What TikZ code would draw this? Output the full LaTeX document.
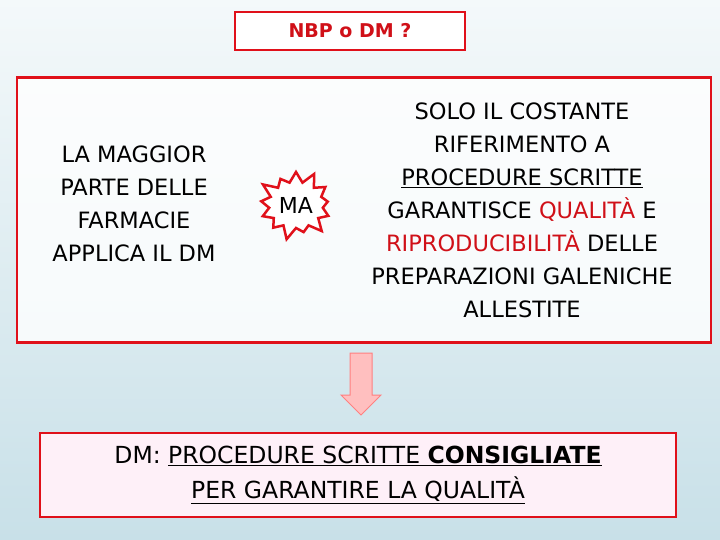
\documentclass[tikz,border=0pt]{standalone}
\usepackage{fontspec}
\setmainfont{DejaVu Sans}
\usetikzlibrary{shapes.misc,shapes.geometric,shapes.symbols}
\definecolor{bred}{HTML}{E0101A}
\definecolor{tred}{HTML}{D01018}
\definecolor{bgb}{HTML}{C8E0E8}
\tikzset{redbox/.style={draw=bred,line width=2.5pt},
 txt/.style={align=center,font=\fontsize{22.5}{33}\selectfont,inner sep=0pt}}
\begin{document}
\begin{tikzpicture}[x=1pt,y=-1pt]
\shade[top color=white!80!bgb,bottom color=bgb] (0,0) rectangle (720,540);
\useasboundingbox (0,0) rectangle (720,540);
\node[redbox,fill=white,minimum width=230pt,minimum height=38pt,font=\bfseries\fontsize{19}{22}\selectfont,text=tred] (title) at (350,31) {NBP o DM ?};
\node[redbox,fill=white,fill opacity=0.8,text opacity=1,minimum width=694pt,minimum height=265pt] (main) at (364,210) {};
\node[txt] (left) at (134,204) {LA MAGGIOR\\PARTE DELLE\\FARMACIE\\APPLICA IL DM};
\node[starburst,starburst points=13,starburst point height=14pt,draw=bred,line width=2.5pt,fill=white,minimum width=82pt,minimum height=74pt,font=\fontsize{22}{24}\selectfont,inner sep=0pt] (star) at (296,205) {MA};
\node[txt] (right) at (522,210) {SOLO IL COSTANTE\\RIFERIMENTO A\\\underline{PROCEDURE SCRITTE}\\GARANTISCE \textcolor{tred}{QUALITÀ} E\\\textcolor{tred}{RIPRODUCIBILITÀ} DELLE\\PREPARAZIONI GALENICHE\\ALLESTITE};
\draw[draw=red!50,fill=red!25,line width=1pt] (350,353) -- (372,353) -- (372,395) -- (381,395) -- (361,415) -- (341,395) -- (350,395) -- cycle;
\node[redbox,fill=magenta!6,minimum width=636pt,minimum height=84pt,font=\fontsize{23.5}{35}\selectfont,align=center,inner sep=0pt] (bot) at (358,475) {DM: \underline{PROCEDURE SCRITTE \textbf{CONSIGLIATE}}\\\underline{PER GARANTIRE LA QUALITÀ}};
\end{tikzpicture}
\end{document}
